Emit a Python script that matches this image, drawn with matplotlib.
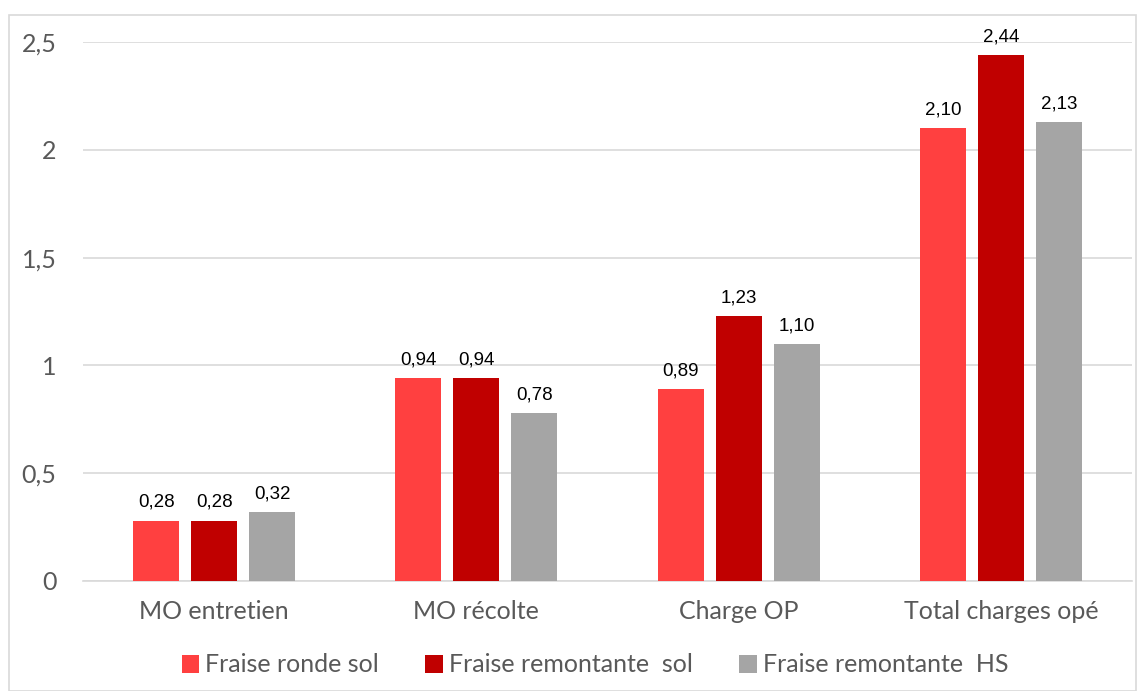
import matplotlib
matplotlib.use("Agg")
import matplotlib.pyplot as plt
import numpy as np
from matplotlib.patches import Rectangle

categories = ["MO entretien", "MO récolte", "Charge OP", "Total charges opé"]
series_names = ["Fraise ronde sol", "Fraise remontante  sol", "Fraise remontante  HS"]
ronde_sol = [0.28, 0.94, 0.89, 2.10]
remontante_sol = [0.28, 0.94, 1.23, 2.44]
remontante_hs = [0.32, 0.78, 1.10, 2.13]
colors = ["#FF4040", "#C00000", "#A5A5A5"]
yticks = [0, 0.5, 1, 1.5, 2, 2.5]
ytick_labels = ["0", "0,5", "1", "1,5", "2", "2,5"]

W, H = 1138, 691
fig = plt.figure(figsize=(W / 100, H / 100), dpi=100)
ax = fig.add_axes([83 / W, 1 - 581 / H, (1132 - 83) / W, (581 - 42) / H])

x = np.arange(len(categories))
bw = 0.1756
step = 0.221
series = [ronde_sol, remontante_sol, remontante_hs]
for i, (vals, name, c) in enumerate(zip(series, series_names, colors)):
    pos = x + (i - 1) * step
    ax.bar(pos, vals, width=bw, color=c, label=name, zorder=3)
    for p, v in zip(pos, vals):
        ax.annotate(f"{v:.2f}".replace(".", ","), (p, v), xytext=(0, 7),
                    textcoords="offset points", ha="center", va="bottom",
                    fontsize=13.5, family="Liberation Sans", color="black")

ax.set_xlim(-0.5, len(categories) - 0.5)
ax.set_ylim(0, 2.5)
ax.set_yticks(yticks)
ax.set_yticklabels(ytick_labels)
ax.set_xticks(x)
ax.set_xticklabels(categories)
ax.tick_params(axis="both", length=0, labelsize=18, labelcolor="#595959")
ax.tick_params(axis="y", pad=19)
ax.tick_params(axis="x", pad=14)
for lab in ax.get_xticklabels() + ax.get_yticklabels():
    lab.set_family("Lato")
ax.grid(axis="y", color="#D9D9D9", linewidth=1.2, zorder=0)
for s in ["top", "right", "left"]:
    ax.spines[s].set_visible(False)
ax.spines["bottom"].set_color("#D9D9D9")
ax.spines["bottom"].set_linewidth(1.2)

handles, labels = ax.get_legend_handles_labels()
leg = fig.legend(handles, labels, loc="center", bbox_to_anchor=(595 / W, 1 - 665 / H),
                 ncol=3, frameon=False, handlelength=0.7, handleheight=0.7,
                 handletextpad=0.25, columnspacing=1.85,
                 prop={"family": "Lato", "size": 18})
for t in leg.get_texts():
    t.set_color("#595959")

fig.patches.append(Rectangle((9 / W, 0), (1136 - 9) / W, 1 - 15 / H,
                             transform=fig.transFigure, fill=False,
                             edgecolor="#D9D9D9", linewidth=1.2))

fig.savefig("out.png", dpi=100)
